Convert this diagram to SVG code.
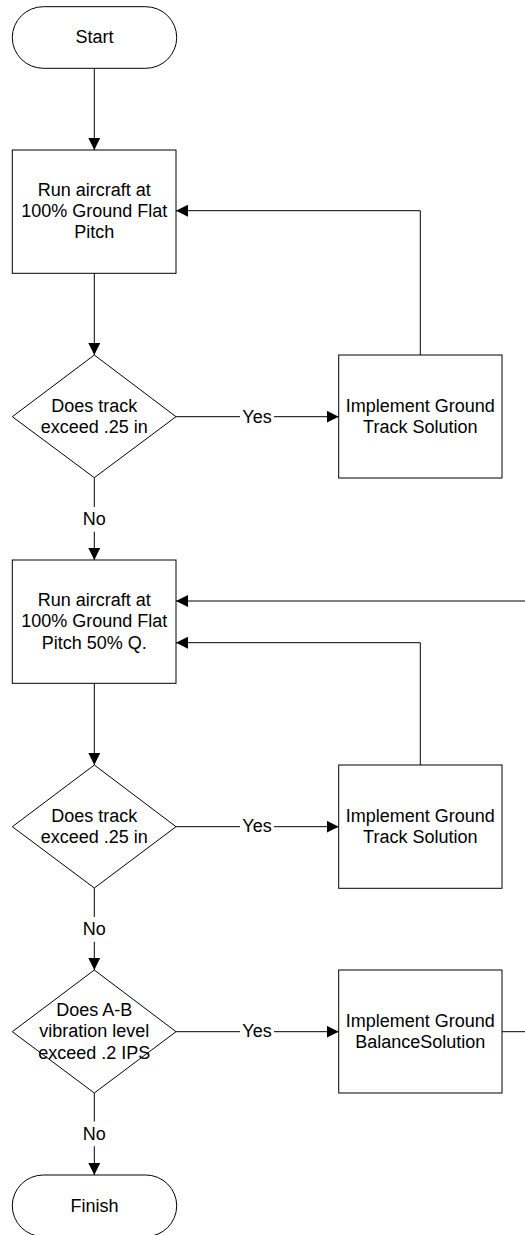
<svg xmlns="http://www.w3.org/2000/svg" width="525" height="1235" viewBox="0 0 525 1235">
<style>
.shape{fill:#fff;stroke:#000;stroke-width:1}
.t{font-family:"Liberation Sans",Arial,sans-serif;font-size:18px;fill:#000;text-anchor:middle}
.c{fill:none;stroke:#000;stroke-width:1}
.lbg{fill:#fff;stroke:none}
</style>
<defs>
<marker id="arr" markerUnits="userSpaceOnUse" markerWidth="12" markerHeight="12" refX="12" refY="6" orient="auto">
<path d="M0,0 L12,6 L0,12 Z" fill="#000"/>
</marker>
</defs>
<rect width="525" height="1235" fill="#fff"/>
<g id="connectors">
<path class="c" d="M94.3,68.3 V150" marker-end="url(#arr)"/>
<path class="c" d="M94.3,273.3 V355" marker-end="url(#arr)"/>
<path class="c" d="M176,416.7 H338.7" marker-end="url(#arr)"/>
<path class="c" d="M420.3,355 V210.7 H176" marker-end="url(#arr)"/>
<path class="c" d="M94.3,477.7 V560" marker-end="url(#arr)"/>
<path class="c" d="M94.3,683.3 V765" marker-end="url(#arr)"/>
<path class="c" d="M176,826.7 H338.7" marker-end="url(#arr)"/>
<path class="c" d="M420.3,765 V642.7 H176" marker-end="url(#arr)"/>
<path class="c" d="M94.3,888 V970" marker-end="url(#arr)"/>
<path class="c" d="M176,1031.7 H338.7" marker-end="url(#arr)"/>
<path class="c" d="M502,1031.7 H535 V601 H176" marker-end="url(#arr)"/>
<path class="c" d="M94.3,1093 V1175" marker-end="url(#arr)"/>
<rect class="lbg" x="240" y="405" width="34" height="22"/>
<text class="t" x="257" y="422.5">Yes</text>
<rect class="lbg" x="240" y="815" width="34" height="22"/>
<text class="t" x="257" y="832.2">Yes</text>
<rect class="lbg" x="240" y="1020" width="34" height="22"/>
<text class="t" x="257" y="1037.2">Yes</text>
<rect class="lbg" x="82" y="507" width="24" height="24.7"/>
<text class="t" x="94.3" y="525">No</text>
<rect class="lbg" x="82" y="917" width="24" height="24.7"/>
<text class="t" x="94.3" y="935.3">No</text>
<rect class="lbg" x="82" y="1121.5" width="24" height="24.7"/>
<text class="t" x="94.3" y="1139.5">No</text>
</g>
<g id="start">
<rect class="shape" x="12.3" y="6.7" width="164.4" height="61.6" rx="31" ry="30.8"/>
<text class="t" x="94.5" y="43">Start</text>
</g>
<g id="run1">
<rect class="shape" x="12.3" y="150" width="163.7" height="123.3"/>
<text class="t" x="94.3" y="196">Run aircraft at</text>
<text class="t" x="94.3" y="217">100% Ground Flat</text>
<text class="t" x="94.3" y="238">Pitch</text>
</g>
<g id="dec1">
<polygon class="shape" points="94.3,355 176,416.7 94.3,477.7 12.3,416.7"/>
<text class="t" x="94.3" y="411.7">Does track</text>
<text class="t" x="94.3" y="433.2">exceed .25 in</text>
</g>
<g id="impl1">
<rect class="shape" x="338.7" y="355" width="163.3" height="123"/>
<text class="t" x="420.3" y="411.7">Implement Ground</text>
<text class="t" x="420.3" y="433.2">Track Solution</text>
</g>
<g id="run2">
<rect class="shape" x="12.3" y="560" width="163.7" height="123.3"/>
<text class="t" x="94.3" y="605.5">Run aircraft at</text>
<text class="t" x="94.3" y="627">100% Ground Flat</text>
<text class="t" x="94.3" y="648.5">Pitch 50% Q.</text>
</g>
<g id="dec2">
<polygon class="shape" points="94.3,765 176,826.7 94.3,888 12.3,826.7"/>
<text class="t" x="94.3" y="821.7">Does track</text>
<text class="t" x="94.3" y="843.2">exceed .25 in</text>
</g>
<g id="impl2">
<rect class="shape" x="338.7" y="765" width="163.3" height="123.3"/>
<text class="t" x="420.3" y="821.7">Implement Ground</text>
<text class="t" x="420.3" y="843.2">Track Solution</text>
</g>
<g id="dec3">
<polygon class="shape" points="94.3,970 176,1031.7 94.3,1093 12.3,1031.7"/>
<text class="t" x="94.3" y="1015.5">Does A-B</text>
<text class="t" x="94.3" y="1037.2">vibration level</text>
<text class="t" x="94.3" y="1058.7">exceed .2 IPS</text>
</g>
<g id="impl3">
<rect class="shape" x="338.7" y="970" width="163.3" height="123"/>
<text class="t" x="420.3" y="1026.7">Implement Ground</text>
<text class="t" x="420.3" y="1048.2">BalanceSolution</text>
</g>
<g id="finish">
<rect class="shape" x="12.3" y="1175" width="164.4" height="61.6" rx="31" ry="30.8"/>
<text class="t" x="94.5" y="1212">Finish</text>
</g>
</svg>
